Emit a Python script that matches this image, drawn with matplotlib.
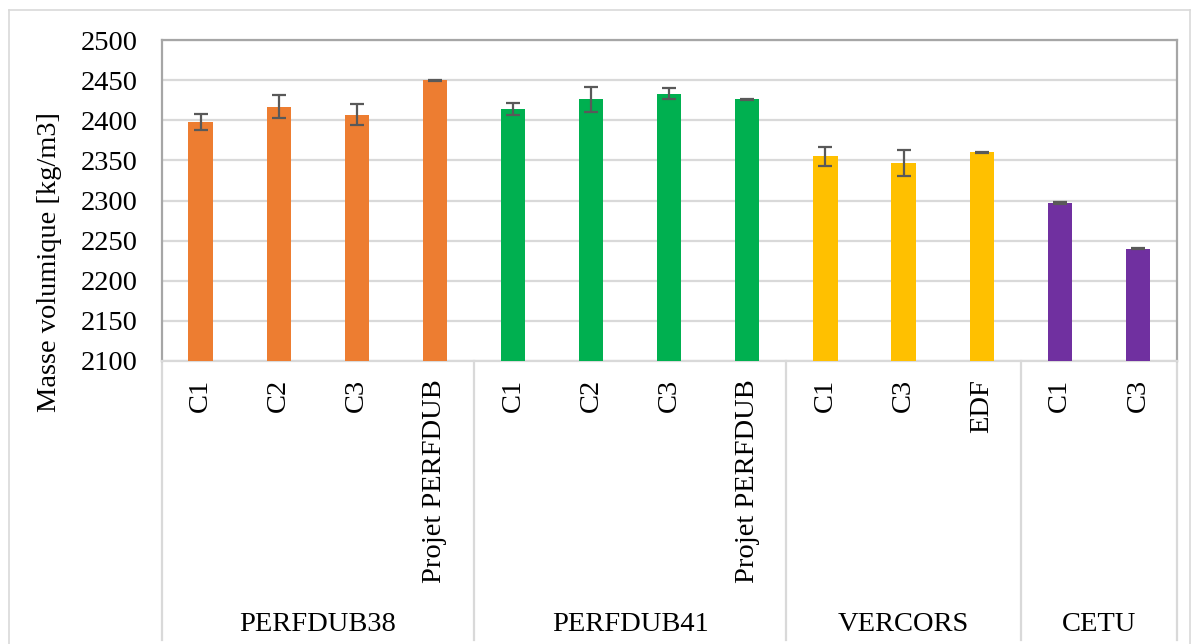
import matplotlib
matplotlib.use("Agg")
import matplotlib.pyplot as plt
import matplotlib.transforms as mtransforms
from matplotlib.lines import Line2D

plt.rcParams['font.family'] = ['Liberation Serif', 'DejaVu Serif']

groups = ["PERFDUB38", "PERFDUB41", "VERCORS", "CETU"]
group_labels = [
    ["C1", "C2", "C3", "Projet PERFDUB"],
    ["C1", "C2", "C3", "Projet PERFDUB"],
    ["C1", "C3", "EDF"],
    ["C1", "C3"],
]
group_values = [
    [2398, 2417, 2407, 2450],
    [2414, 2426, 2433, 2426],
    [2355, 2347, 2360],
    [2297, 2240],
]
group_errors = [
    [10, 14, 13, 0.5],
    [7, 16, 7, 0.5],
    [12, 16, 0.5],
    [0.8, 0.8],
]
group_colors = ["#ED7D31", "#00B050", "#FFC000", "#7030A0"]
yticks = [2100, 2150, 2200, 2250, 2300, 2350, 2400, 2450, 2500]

FS = 20.5
W, H = 1198, 644
fig = plt.figure(figsize=(W / 100, H / 100), dpi=100)

left_px, right_px, top_px, bottom_px = 161.5, 1177, 40, 361
ax = fig.add_axes([left_px / W, 1 - bottom_px / H,
                   (right_px - left_px) / W, (bottom_px - top_px) / H])

labels, values, errors, colors = [], [], [], []
boundaries = [0]
for lbls, vals, errs, col in zip(group_labels, group_values, group_errors, group_colors):
    labels += lbls
    values += vals
    errors += errs
    colors += [col] * len(vals)
    boundaries.append(boundaries[-1] + len(vals))

n = len(values)
x = list(range(n))
ax.bar(x, values, width=0.31, color=colors, zorder=3,
       yerr=errors, error_kw=dict(ecolor="#595959", elinewidth=1.6, capsize=5,
                                  capthick=1.6, zorder=4))

ax.set_xlim(-0.5, n - 0.5)
ax.set_ylim(2100, 2500)
ax.set_yticks(yticks)
ax.set_yticklabels([str(t) for t in yticks], fontsize=FS)
ax.tick_params(axis='y', length=0, pad=17)
ax.set_xticks([])
ax.grid(axis='y', color="#D9D9D9", linewidth=1.6, zorder=0)
ax.set_axisbelow(True)
for s in ['top', 'left', 'right']:
    ax.spines[s].set_color("#A6A6A6")
    ax.spines[s].set_linewidth(1.6)
ax.spines['bottom'].set_color("#D9D9D9")
ax.spines['bottom'].set_linewidth(1.6)

# y-axis title
fig.text(50 / W, 1 - 262 / H, "Masse volumique [kg/m3]", rotation=90,
         ha='center', va='center', fontsize=FS)

# category labels
trans = mtransforms.blended_transform_factory(ax.transData, ax.transAxes)
axh = bottom_px - top_px
for xi, lab in zip(x, labels):
    ax.text(xi, -(379 - bottom_px) / axh, lab, rotation=90, ha='center', va='top',
            fontsize=FS, transform=trans)

# separators
sep_bottom = -(640 - bottom_px) / axh
for b in boundaries:
    ax.add_line(Line2D([b - 0.5, b - 0.5], [0, sep_bottom], transform=trans,
                       color="#D9D9D9", linewidth=1.6, clip_on=False))

# group labels
for g, name in enumerate(groups):
    cx = (boundaries[g] + boundaries[g + 1] - 1) / 2
    ax.text(cx, -(631 - bottom_px) / axh, name, ha='center', va='baseline',
            fontsize=FS, transform=trans)

# outer chart border (left, top, right)
fig.add_artist(Line2D([9 / W, 9 / W], [0, 1 - 10 / H], color="#D9D9D9", linewidth=1.2))
fig.add_artist(Line2D([9 / W, 1190 / W], [1 - 10 / H, 1 - 10 / H], color="#D9D9D9", linewidth=1.2))
fig.add_artist(Line2D([1190 / W, 1190 / W], [0, 1 - 10 / H], color="#D9D9D9", linewidth=1.2))

fig.savefig("out.png", dpi=100)
